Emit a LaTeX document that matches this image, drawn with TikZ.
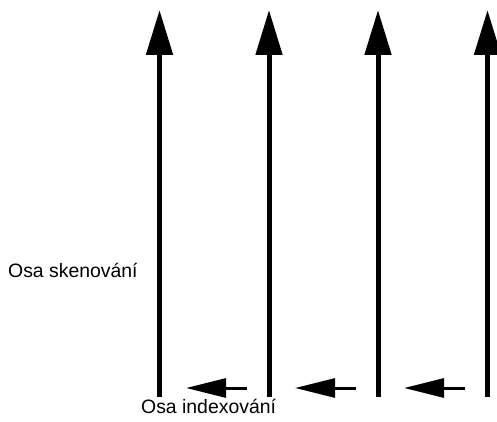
\documentclass[tikz,border=0pt]{standalone}
\usepackage{fontspec}
\setmainfont{Liberation Sans}
\usetikzlibrary{arrows.meta}
\begin{document}
\begin{tikzpicture}[x=1pt,y=1pt,
  scanarrow/.style={line width=5pt,-{Triangle[length=45pt,width=26pt]}},
  indexarrow/.style={line width=3pt,-{Triangle[length=40pt,width=19pt]}},
  lbl/.style={font=\fontsize{19.4}{23}\selectfont,inner sep=0pt}]
\useasboundingbox (0,0) rectangle (497,421);
\foreach \i/\x in {1/159.5,2/269,3/378,4/487.5}{
  \coordinate (b\i) at (\x,24);
  \coordinate (t\i) at (\x,411);
}
\foreach \i in {1,...,4}{\draw[scanarrow] (b\i) -- (t\i);}
\foreach \i/\x in {1/247,2/356,3/465}{
  \coordinate (s\i) at (\x,33);
  \coordinate (e\i) at (\x-61,33);
  \draw[indexarrow] (s\i) -- (e\i);
}
\node[lbl,anchor=base west] (scan) at (8,144) {Osa skenování};
\node[lbl,anchor=base west] (idx) at (141,8) {Osa indexování};
\end{tikzpicture}
\end{document}
